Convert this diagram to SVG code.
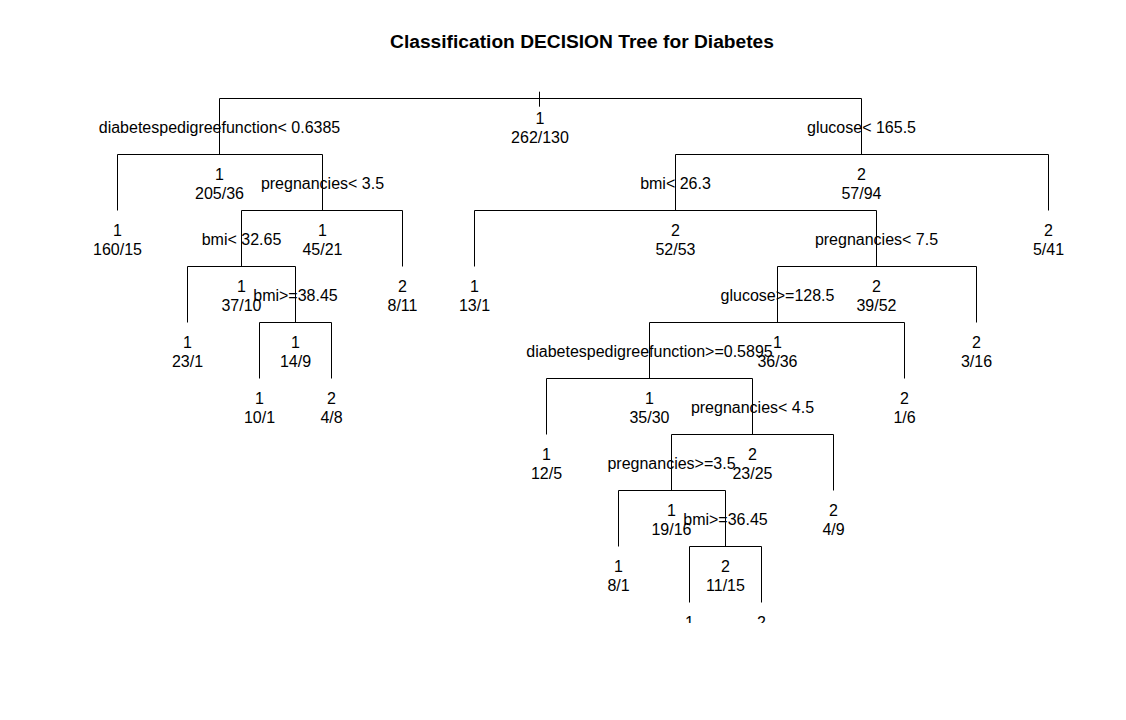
<svg xmlns="http://www.w3.org/2000/svg" width="1126" height="720" viewBox="0 0 1126 720">
<style>
text{font-family:"Liberation Sans",Arial,sans-serif;font-size:16px;fill:#000;text-anchor:middle}
.title{font-size:19.2px;font-weight:bold}
.edge{fill:none;stroke:#000;stroke-width:1}
</style>
<defs>
<clipPath id="plotclip"><rect x="0" y="76.5" width="1126" height="546.5"/></clipPath>
</defs>
<rect width="1126" height="720" fill="#fff"/>
<text class="title" x="582" y="48">Classification DECISION Tree for Diabetes</text>
<g id="connectors" class="edge">
<path class="edge" d="M539.5 91.7V106.7"/>
<path class="edge" d="M219.5 154.5V98.5H861.5V154.5"/>
<path class="edge" d="M117.5 210.5V154.5H322.5V210.5"/>
<path class="edge" d="M241.5 266.5V210.5H402.5V266.5"/>
<path class="edge" d="M187.5 322.5V266.5H295.5V322.5"/>
<path class="edge" d="M259.5 378.5V322.5H331.5V378.5"/>
<path class="edge" d="M675.5 210.5V154.5H1048.5V210.5"/>
<path class="edge" d="M474.5 266.5V210.5H876.5V266.5"/>
<path class="edge" d="M777.5 322.5V266.5H976.5V322.5"/>
<path class="edge" d="M649.5 378.5V322.5H904.5V378.5"/>
<path class="edge" d="M546.5 434.5V378.5H752.5V434.5"/>
<path class="edge" d="M671.5 490.5V434.5H833.5V490.5"/>
<path class="edge" d="M618.5 546.5V490.5H725.5V546.5"/>
<path class="edge" d="M689.5 602.5V546.5H761.5V602.5"/>
</g>
<g id="n1"><text x="540" y="123.5">1</text><text x="540" y="143">262/130</text></g>
<g id="n2"><text x="219.5" y="133">diabetespedigreefunction&lt; 0.6385</text><text x="219.5" y="179.5">1</text><text x="219.5" y="199">205/36</text></g>
<g id="n4"><text x="117.5" y="235.5">1</text><text x="117.5" y="255">160/15</text></g>
<g id="n5"><text x="322.5" y="189">pregnancies&lt; 3.5</text><text x="322.5" y="235.5">1</text><text x="322.5" y="255">45/21</text></g>
<g id="n10"><text x="241.5" y="245">bmi&lt; 32.65</text><text x="241.5" y="291.5">1</text><text x="241.5" y="311">37/10</text></g>
<g id="n11"><text x="402.5" y="291.5">2</text><text x="402.5" y="311">8/11</text></g>
<g id="n20"><text x="187.5" y="347.5">1</text><text x="187.5" y="367">23/1</text></g>
<g id="n21"><text x="295.5" y="301">bmi&gt;=38.45</text><text x="295.5" y="347.5">1</text><text x="295.5" y="367">14/9</text></g>
<g id="n42"><text x="259.5" y="403.5">1</text><text x="259.5" y="423">10/1</text></g>
<g id="n43"><text x="331.5" y="403.5">2</text><text x="331.5" y="423">4/8</text></g>
<g id="n3"><text x="861.5" y="133">glucose&lt; 165.5</text><text x="861.5" y="179.5">2</text><text x="861.5" y="199">57/94</text></g>
<g id="n6"><text x="675.5" y="189">bmi&lt; 26.3</text><text x="675.5" y="235.5">2</text><text x="675.5" y="255">52/53</text></g>
<g id="n7"><text x="1048.5" y="235.5">2</text><text x="1048.5" y="255">5/41</text></g>
<g id="n12"><text x="474.5" y="291.5">1</text><text x="474.5" y="311">13/1</text></g>
<g id="n13"><text x="876.5" y="245">pregnancies&lt; 7.5</text><text x="876.5" y="291.5">2</text><text x="876.5" y="311">39/52</text></g>
<g id="n26"><text x="777.5" y="301">glucose&gt;=128.5</text><text x="777.5" y="347.5">1</text><text x="777.5" y="367">36/36</text></g>
<g id="n27"><text x="976.5" y="347.5">2</text><text x="976.5" y="367">3/16</text></g>
<g id="n52"><text x="649.5" y="357">diabetespedigreefunction&gt;=0.5895</text><text x="649.5" y="403.5">1</text><text x="649.5" y="423">35/30</text></g>
<g id="n53"><text x="904.5" y="403.5">2</text><text x="904.5" y="423">1/6</text></g>
<g id="n104"><text x="546.5" y="459.5">1</text><text x="546.5" y="479">12/5</text></g>
<g id="n105"><text x="752.5" y="413">pregnancies&lt; 4.5</text><text x="752.5" y="459.5">2</text><text x="752.5" y="479">23/25</text></g>
<g id="n210"><text x="671.5" y="469">pregnancies&gt;=3.5</text><text x="671.5" y="515.5">1</text><text x="671.5" y="535">19/16</text></g>
<g id="n211"><text x="833.5" y="515.5">2</text><text x="833.5" y="535">4/9</text></g>
<g id="n420"><text x="618.5" y="571.5">1</text><text x="618.5" y="591">8/1</text></g>
<g id="n421"><text x="725.5" y="525">bmi&gt;=36.45</text><text x="725.5" y="571.5">2</text><text x="725.5" y="591">11/15</text></g>
<g id="n842" clip-path="url(#plotclip)"><text x="689.5" y="627.5">1</text></g>
<g id="n843" clip-path="url(#plotclip)"><text x="761.5" y="627.5">2</text></g>
</svg>
